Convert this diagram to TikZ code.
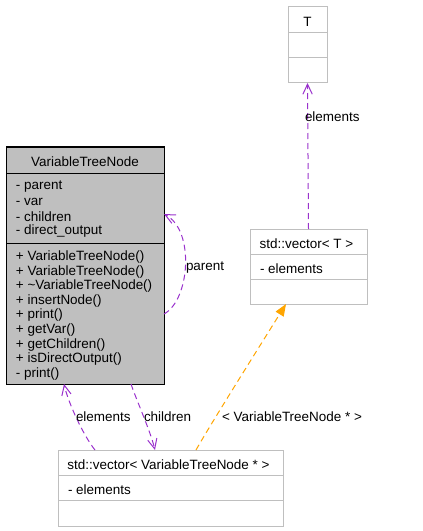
\documentclass[tikz,border=0pt]{standalone}
\usepackage{fontspec}
\setmainfont{Liberation Sans}
\usetikzlibrary{arrows.meta,calc}
\definecolor{edgepurple}{HTML}{9A32CD}
\definecolor{edgeorange}{HTML}{FFA500}
\definecolor{boxgray}{HTML}{BFBFBF}
\begin{document}
\begin{tikzpicture}[x=0.75pt,y=-0.75pt,
  every node/.style={font=\fontsize{10.1pt}{11pt}\selectfont, inner sep=0pt, outer sep=0pt},
  mainbox/.style={draw=black, fill=boxgray, line width=0.75pt, rectangle},
  plainbox/.style={draw=boxgray, fill=white, line width=0.75pt, rectangle},
  txt/.style={anchor=west, text=black, yshift=-1.5pt},
  ttl/.style={anchor=center, text=black, yshift=-1.5pt},
  lbl/.style={anchor=west, text=black, yshift=-1.5pt},
  useedge/.style={draw=edgepurple, line width=0.75pt, dash pattern=on 4.5pt off 3pt, -{Straight Barb[length=7.5pt,width=7pt,line width=0.75pt]}},
  tmpledge/.style={draw=edgeorange, line width=0.75pt, dash pattern=on 4.5pt off 3pt, -{Triangle[length=9pt,width=7pt]}}
]
\useasboundingbox (0,0) rectangle (423,531);

% VariableTreeNode
\node[mainbox, minimum width=118.5pt, minimum height=177.75pt] (vtn) at (85,265.5) {};
\draw[line width=0.75pt] (6,173) -- (164,173);
\draw[line width=0.75pt] (6,243) -- (164,243);
\node[ttl] (vtnt) at (85,160) {VariableTreeNode};
\node[txt] (a1) at (16,185) {- parent};
\node[txt] (a2) at (16,200) {- var};
\node[txt] (a3) at (16,214.5) {- children};
\node[txt] (a4) at (16,229) {- direct\_output};
\node[txt] (m1) at (16,255) {+ VariableTreeNode()};
\node[txt] (m2) at (16,269.6) {+ VariableTreeNode()};
\node[txt] (m3) at (16,284.2) {+ \textasciitilde VariableTreeNode()};
\node[txt] (m4) at (16,298.8) {+ insertNode()};
\node[txt] (m5) at (16,313.4) {+ print()};
\node[txt] (m6) at (16,328) {+ getVar()};
\node[txt] (m7) at (16,342.6) {+ getChildren()};
\node[txt] (m8) at (16,357.2) {+ isDirectOutput()};
\node[txt] (m9) at (16,371.8) {- print()};

% T
\node[plainbox, minimum width=29.25pt, minimum height=57pt] (T) at (307.5,45) {};
\draw[boxgray, line width=0.75pt] (288,33) -- (327,33);
\draw[boxgray, line width=0.75pt] (288,58) -- (327,58);
\node[ttl] (Tt) at (307.5,20) {T};

% std::vector<T>
\node[plainbox, minimum width=87.75pt, minimum height=56.25pt] (vecT) at (308.5,266.5) {};
\draw[boxgray, line width=0.75pt] (250,254) -- (367,254);
\draw[boxgray, line width=0.75pt] (250,279) -- (367,279);
\node[ttl] (vecTt) at (306.5,241.5) {std::vector\textless{} T \textgreater};
\node[txt] (vecTa) at (260,266.5) {- elements};

% std::vector<VariableTreeNode *>
\node[plainbox, minimum width=168.75pt, minimum height=57pt] (vecV) at (170.5,488) {};
\draw[boxgray, line width=0.75pt] (58,475) -- (283,475);
\draw[boxgray, line width=0.75pt] (58,500) -- (283,500);
\node[ttl] (vecVt) at (168.5,463) {std::vector\textless{} VariableTreeNode * \textgreater};
\node[txt] (vecVa) at (68,487.5) {- elements};

% edges
\draw[useedge] (vecT.north) -- (T.south);
\node[lbl] (l1) at (305,114.5) {elements};

\draw[useedge] ($(vtn.south east)+(0,-70)$) .. controls +(26,-14) and +(31,16) .. ($(vtn.north east)+(0,67)$);
\node[lbl] (l2) at (186,266) {parent};

\draw[useedge] ($(vecV.north west)+(37,0)$) .. controls +(-12,-15) and +(4,18) .. ($(vtn.south west)+(58,0)$);
\node[lbl] (l3) at (76,415) {elements};

\draw[useedge] ($(vtn.south west)+(125,0)$) .. controls +(5,15) and +(-5,-20) .. ($(vecV.north west)+(97,0)$);
\node[lbl] (l4) at (144,415) {children};

\draw[tmpledge] ($(vecV.north west)+(138,0)$) .. controls +(14,-25) and +(-25,40) .. ($(vecT.south west)+(36,0)$);
\node[lbl] (l5) at (222,415) {\textless{} VariableTreeNode * \textgreater};
\end{tikzpicture}
\end{document}
